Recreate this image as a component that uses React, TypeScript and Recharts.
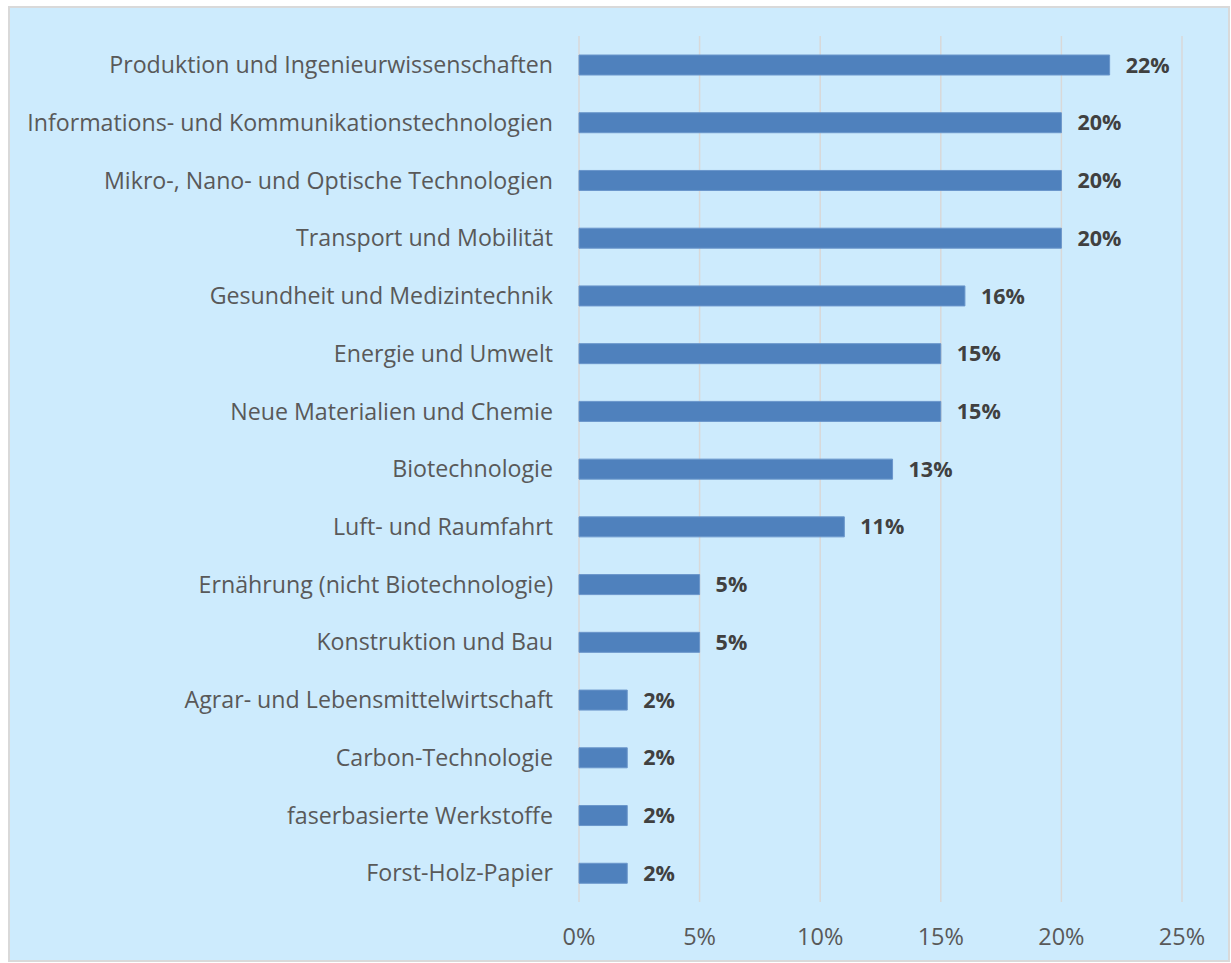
import { Bar, BarChart, CartesianGrid, LabelList, XAxis, YAxis } from "recharts";

// Share of projects per technology field, in percent.
const fields = [
  "Produktion und Ingenieurwissenschaften",
  "Informations- und Kommunikationstechnologien",
  "Mikro-, Nano- und Optische Technologien",
  "Transport und Mobilität",
  "Gesundheit und Medizintechnik",
  "Energie und Umwelt",
  "Neue Materialien und Chemie",
  "Biotechnologie",
  "Luft- und Raumfahrt",
  "Ernährung (nicht Biotechnologie)",
  "Konstruktion und Bau",
  "Agrar- und Lebensmittelwirtschaft",
  "Carbon-Technologie",
  "faserbasierte Werkstoffe",
  "Forst-Holz-Papier",
];
const shares = [22, 20, 20, 20, 16, 15, 15, 13, 11, 5, 5, 2, 2, 2, 2];
const percentTicks = [0, 5, 10, 15, 20, 25];

const data = fields.map((name, i) => ({ name, share: shares[i] }));

const FONT = "'Open Sans', sans-serif";

export default function App() {
  return (
    <div
      style={{
        position: "absolute",
        left: 8,
        top: 6,
        width: 1218,
        height: 952,
        background: "#cdebfd",
        border: "2px solid #d9d9d9",
        fontFamily: FONT,
      }}
    >
      <BarChart
        width={1218}
        height={952}
        data={data}
        layout="vertical"
        barCategoryGap={0}
        margin={{ top: 28, right: 46, bottom: 18, left: 0 }}
      >
        <CartesianGrid horizontal={false} stroke="#d9d9d9" strokeWidth={1.5} />
        <XAxis
          type="number"
          domain={[0, 25]}
          ticks={percentTicks}
          tickFormatter={(v: number) => `${v}%`}
          axisLine={false}
          tickLine={false}
          tickSize={0}
          tickMargin={26}
          height={40}
          tick={{ fill: "#595959", fontSize: 23.5, fontFamily: FONT }}
        />
        <YAxis
          type="category"
          dataKey="name"
          width={569}
          axisLine={false}
          tickLine={false}
          tickSize={0}
          tickMargin={26}
          interval={0}
          tick={{ fill: "#595959", fontSize: 23.2, fontFamily: FONT }}
        />
        <Bar dataKey="share" fill="#4f81bd" stroke="#6a96cb" strokeWidth={1} barSize={20} isAnimationActive={false}>
          <LabelList
            dataKey="share"
            position="right"
            offset={16}
            formatter={(v: number) => `${v}%`}
            style={{ fill: "#404040", fontSize: 21.5, fontWeight: 700, fontFamily: FONT }}
          />
        </Bar>
      </BarChart>
    </div>
  );
}
